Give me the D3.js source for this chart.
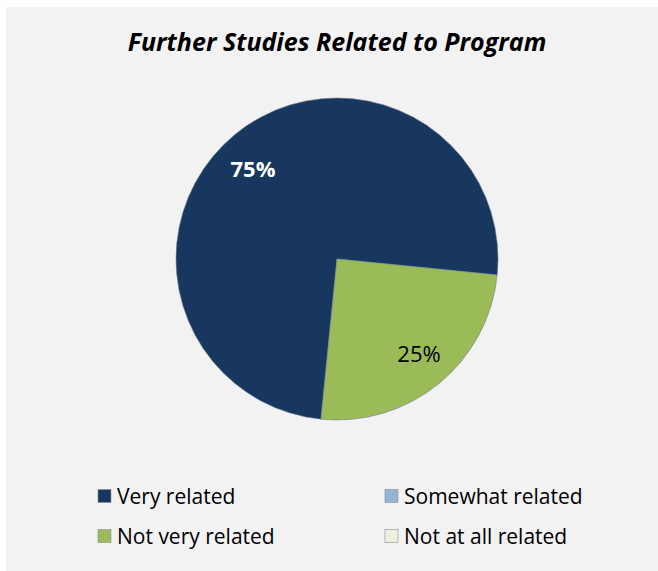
<!DOCTYPE html>
<html>
<head>
<meta charset="utf-8">
<script src="https://cdn.jsdelivr.net/npm/d3@7"></script>
<style>
  html, body { margin: 0; padding: 0; background: #ffffff; }
  svg { display: block; }
</style>
</head>
<body>
<svg id="chart" width="658" height="571"></svg>
<script>
const title = "Further Studies Related to Program";
const categories = ["Very related", "Somewhat related", "Not very related", "Not at all related"];
const values = [75, 0, 25, 0];
const colors = ["#17375e", "#95b3d7", "#9bbb59", "#ebf1de"];
const labelColors = ["#ffffff", "#000000", "#000000", "#000000"];
const labelWeights = ["bold", "normal", "normal", "normal"];
const labelShift = [[-6, 5], [0, 0], [4, 0], [0, 0]];

const W = 658, H = 571;
const svg = d3.select("#chart");
const font = "'Open Sans', 'DejaVu Sans', sans-serif";

svg.append("rect").attr("x", 6).attr("y", 7).attr("width", W - 6).attr("height", H - 7)
  .attr("fill", "#f2f2f2");

svg.append("text")
  .attr("x", 337).attr("y", 51)
  .attr("text-anchor", "middle")
  .attr("font-family", font)
  .attr("font-size", 25)
  .attr("font-weight", "bold")
  .attr("font-style", "italic")
  .attr("fill", "#000")
  .text(title);

const cx = 337, cy = 259, R = 161;
const startDeg = 185.7;
const pie = d3.pie().sort(null).value(d => d.v)
  .startAngle(startDeg * Math.PI / 180)
  .endAngle(startDeg * Math.PI / 180 + 2 * Math.PI);
const data = categories.map((c, i) => ({ c, v: values[i], i }));
const arcs = pie(data);
const arc = d3.arc().innerRadius(0).outerRadius(R);
const labelArc = d3.arc().innerRadius(R * 0.765).outerRadius(R * 0.765);

const g = svg.append("g").attr("transform", `translate(${cx},${cy})`);
g.selectAll("path.slice").data(arcs.filter(a => a.data.v > 0)).join("path")
  .attr("class", "slice")
  .attr("d", arc)
  .attr("fill", d => colors[d.data.i])
  .attr("stroke", "#6f7f8f")
  .attr("stroke-width", 0.6);

g.selectAll("text.lbl").data(arcs.filter(a => a.data.v > 0)).join("text")
  .attr("class", "lbl")
  .attr("transform", d => {
    const [x, y] = labelArc.centroid(d);
    const s = labelShift[d.data.i];
    return `translate(${x + s[0]},${y + s[1]})`;
  })
  .attr("text-anchor", "middle")
  .attr("dy", "0.36em")
  .attr("font-family", font)
  .attr("font-size", 22)
  .attr("font-weight", d => labelWeights[d.data.i])
  .attr("fill", d => labelColors[d.data.i])
  .text(d => d3.format(".0%")(d.data.v / d3.sum(values)));

// Legend
const colX = [98, 385];
const rowY = [496, 536];
const leg = svg.append("g");
categories.forEach((c, i) => {
  const x = colX[i % 2], y = rowY[Math.floor(i / 2)];
  leg.append("rect")
    .attr("x", x).attr("y", y - 6.5).attr("width", 13).attr("height", 13)
    .attr("fill", colors[i])
    .attr("stroke", "#8a8f96").attr("stroke-width", 0.6);
  leg.append("text")
    .attr("x", x + 19).attr("y", y)
    .attr("dy", "0.36em")
    .attr("font-family", font)
    .attr("font-size", 21)
    .attr("fill", "#000")
    .text(c);
});
</script>
</body>
</html>
